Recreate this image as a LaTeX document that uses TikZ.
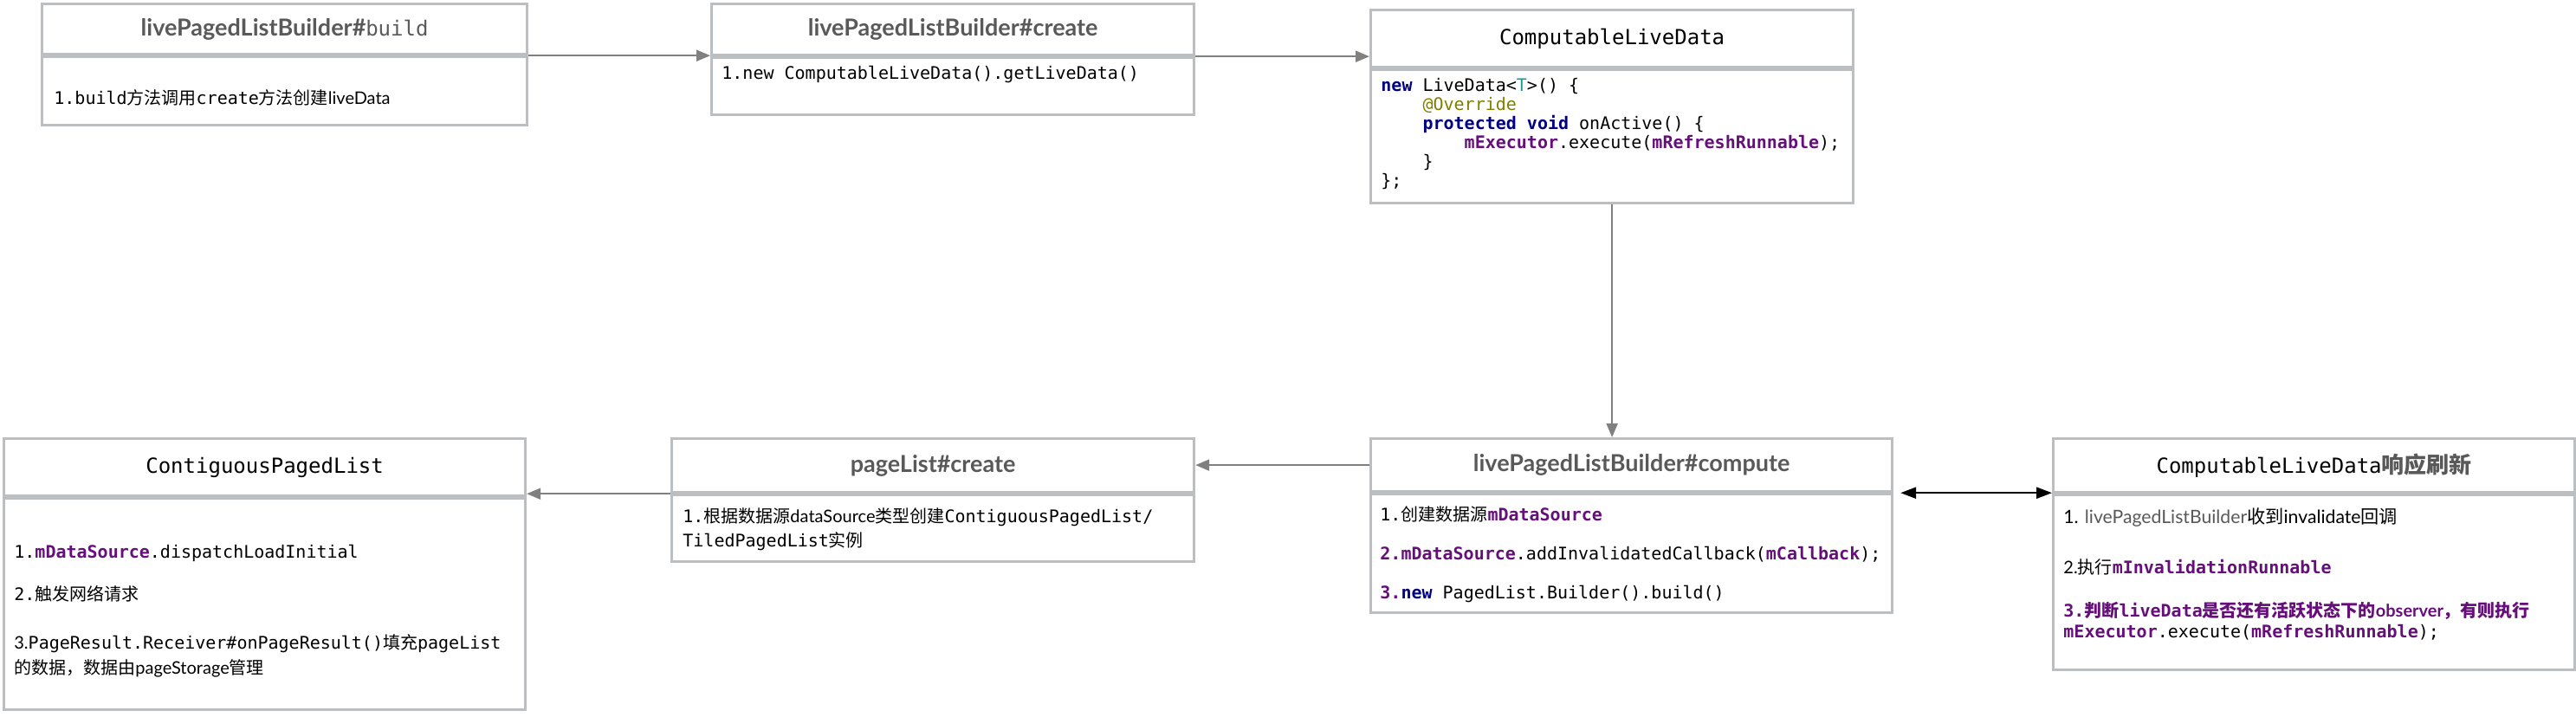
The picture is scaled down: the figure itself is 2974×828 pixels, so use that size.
\documentclass[tikz,border=0pt]{standalone}
\usepackage{fontspec}
\setmainfont{Lato}
\setmonofont{DejaVu Sans Mono}
\newfontfamily\cjk{Noto Sans CJK SC}
\usepackage{tikz}
\usetikzlibrary{arrows.meta}

\definecolor{framegray}{HTML}{BBBFC1}
\definecolor{arrowgray}{HTML}{808080}
\definecolor{titlegray}{HTML}{595959}
\definecolor{fieldpurple}{HTML}{660E7A}
\definecolor{keynavy}{HTML}{000080}
\definecolor{annoolive}{HTML}{808000}
\definecolor{typeteal}{HTML}{20999D}

\newcommand\zh[1]{{\cjk #1}}
\newcommand\fld[1]{{\color{fieldpurple}\bfseries #1}}
\newcommand\kw[1]{{\color{keynavy}\bfseries #1}}
\newcommand\sttl[1]{{\rmfamily\bfseries\color{titlegray}\fontsize{13.5}{16}\selectfont #1}}
\newcommand\ind{\hspace*{24.08pt}}

\tikzset{
  hd/.style={draw=framegray, line width=1.6pt, anchor=north west, inner sep=0pt,
    font=\ttfamily\fontsize{12}{14}\selectfont},
  bd/.style={draw=framegray, line width=1.6pt, anchor=north west, inner sep=0pt},
  txt/.style={anchor=north west, inner sep=0pt, align=left,
    font=\ttfamily\fontsize{10}{12}\selectfont},
  ar/.style={draw=arrowgray, line width=1pt, -{Triangle[length=8pt,width=6.5pt]}},
  biar/.style={line width=1.2pt, {Triangle[length=9pt,width=6.5pt]}-{Triangle[length=9pt,width=6.5pt]}}
}

\begin{document}
\begin{tikzpicture}[x=0.5pt,y=-0.5pt]
\useasboundingbox (0,0) rectangle (2974,828);

% top row
\node[hd, minimum width=280pt, minimum height=29pt] (bldT) at (47,3)
  {\sttl{livePagedListBuilder\#}\color{titlegray}build};
\node[bd, minimum width=280pt, minimum height=39.5pt] (bldB) at (bldT.south west) {};
\node[txt] (bldX) at (62,103) {1.build\zh{方法调用}create\zh{方法创建}{\rmfamily liveData}};

\node[hd, minimum width=278.5pt, minimum height=29.5pt] (crtT) at (820,3)
  {\sttl{livePagedListBuilder\#create}};
\node[bd, minimum width=278.5pt, minimum height=33pt] (crtB) at (crtT.south west) {};
\node[txt] (crtX) at (833,76) {1.new ComputableLiveData().getLiveData()};

\node[hd, minimum width=278.5pt, minimum height=33pt] (cldT) at (1581,10) {ComputableLiveData};
\node[bd, minimum width=278.5pt, minimum height=77pt] (cldB) at (cldT.south west) {};
\node[txt, font=\ttfamily\fontsize{10}{11}\selectfont] (cldX) at (1594,90)
  {\kw{new} LiveData<{\color{typeteal}T}>() \{\\
   \ind{\color{annoolive}@Override}\\
   \ind\kw{protected} \kw{void} onActive() \{\\
   \ind\ind\fld{mExecutor}.execute(\fld{mRefreshRunnable});\\
   \ind\}\\
   \};};

% bottom row
\node[hd, minimum width=301pt, minimum height=30.5pt] (cmpT) at (1581,505)
  {\sttl{livePagedListBuilder\#compute}};
\node[bd, minimum width=301pt, minimum height=68.5pt] (cmpB) at (cmpT.south west) {};
\node[txt] (cmpX) at (1593,584)
  {1.\zh{创建数据源}\fld{mDataSource}\\[10.5pt]
   \fld{2.mDataSource}.addInvalidatedCallback(\fld{mCallback});\\[10.5pt]
   \fld{3.}\kw{new} PagedList.Builder().build()};

\node[hd, minimum width=301.5pt, minimum height=31pt] (pglT) at (774,505)
  {\sttl{pageList\#create}};
\node[bd, minimum width=301.5pt, minimum height=38.5pt] (pglB) at (pglT.south west) {};
\node[txt] (pglX) at (788,586)
  {1.\zh{根据数据源}{\rmfamily dataSource}\zh{类型创建}ContiguousPagedList/\\[2pt]
   TiledPagedList\zh{实例}};

\node[hd, minimum width=301pt, minimum height=33pt] (cpgT) at (3,505) {ContiguousPagedList};
\node[bd, minimum width=301pt, minimum height=122pt] (cpgB) at (cpgT.south west) {};
\node[txt] (cpgX) at (16,629)
  {1.\fld{mDataSource}.dispatchLoadInitial\\[12.5pt]
   2.\zh{触发网络请求}\\[16pt]
   {\rmfamily 3.}PageResult.Receiver\#onPageResult()\zh{填充}pageList\\[2.5pt]
   \zh{的数据，数据由}{\rmfamily pageStorage}\zh{管理}};

\node[hd, minimum width=301pt, minimum height=31pt] (crfT) at (2369,505)
  {ComputableLiveData{\color{titlegray}\bfseries\fontsize{13}{15}\selectfont\zh{响应刷新}}};
\node[bd, minimum width=301pt, minimum height=101pt] (crfB) at (crfT.south west) {};
\node[txt] (crfX) at (2382,586)
  {{\rmfamily\fontsize{10.6}{12}\selectfont 1. {\color{titlegray}livePagedListBuilder}\zh{收到}invalidate\zh{回调}}\\[17pt]
   {\rmfamily 2.}\zh{执行}\fld{mInvalidationRunnable}\\[13pt]
   {\color{fieldpurple}\bfseries 3.\zh{判断}liveData\zh{是否还有活跃状态下的}{\rmfamily observer}\zh{，有则执行}}\\
   \fld{mExecutor}.execute(\fld{mRefreshRunnable});};

% connectors
\draw[ar] (bldT.south east) -- (bldT.south east -| crtT.west);
\draw[ar] (crtT.south east) -- (crtT.south east -| cldT.west);
\draw[ar] (cldB.south) -- (cldB.south |- cmpT.north);
\draw[ar] (cmpT.west) -- (cmpT.west -| pglT.east);
\draw[ar] (pglT.south west) -- (pglT.south west -| cpgT.east);
\draw[biar, shorten <=4pt] (cmpT.south east) -- (cmpT.south east -| crfT.west);
\end{tikzpicture}
\end{document}
